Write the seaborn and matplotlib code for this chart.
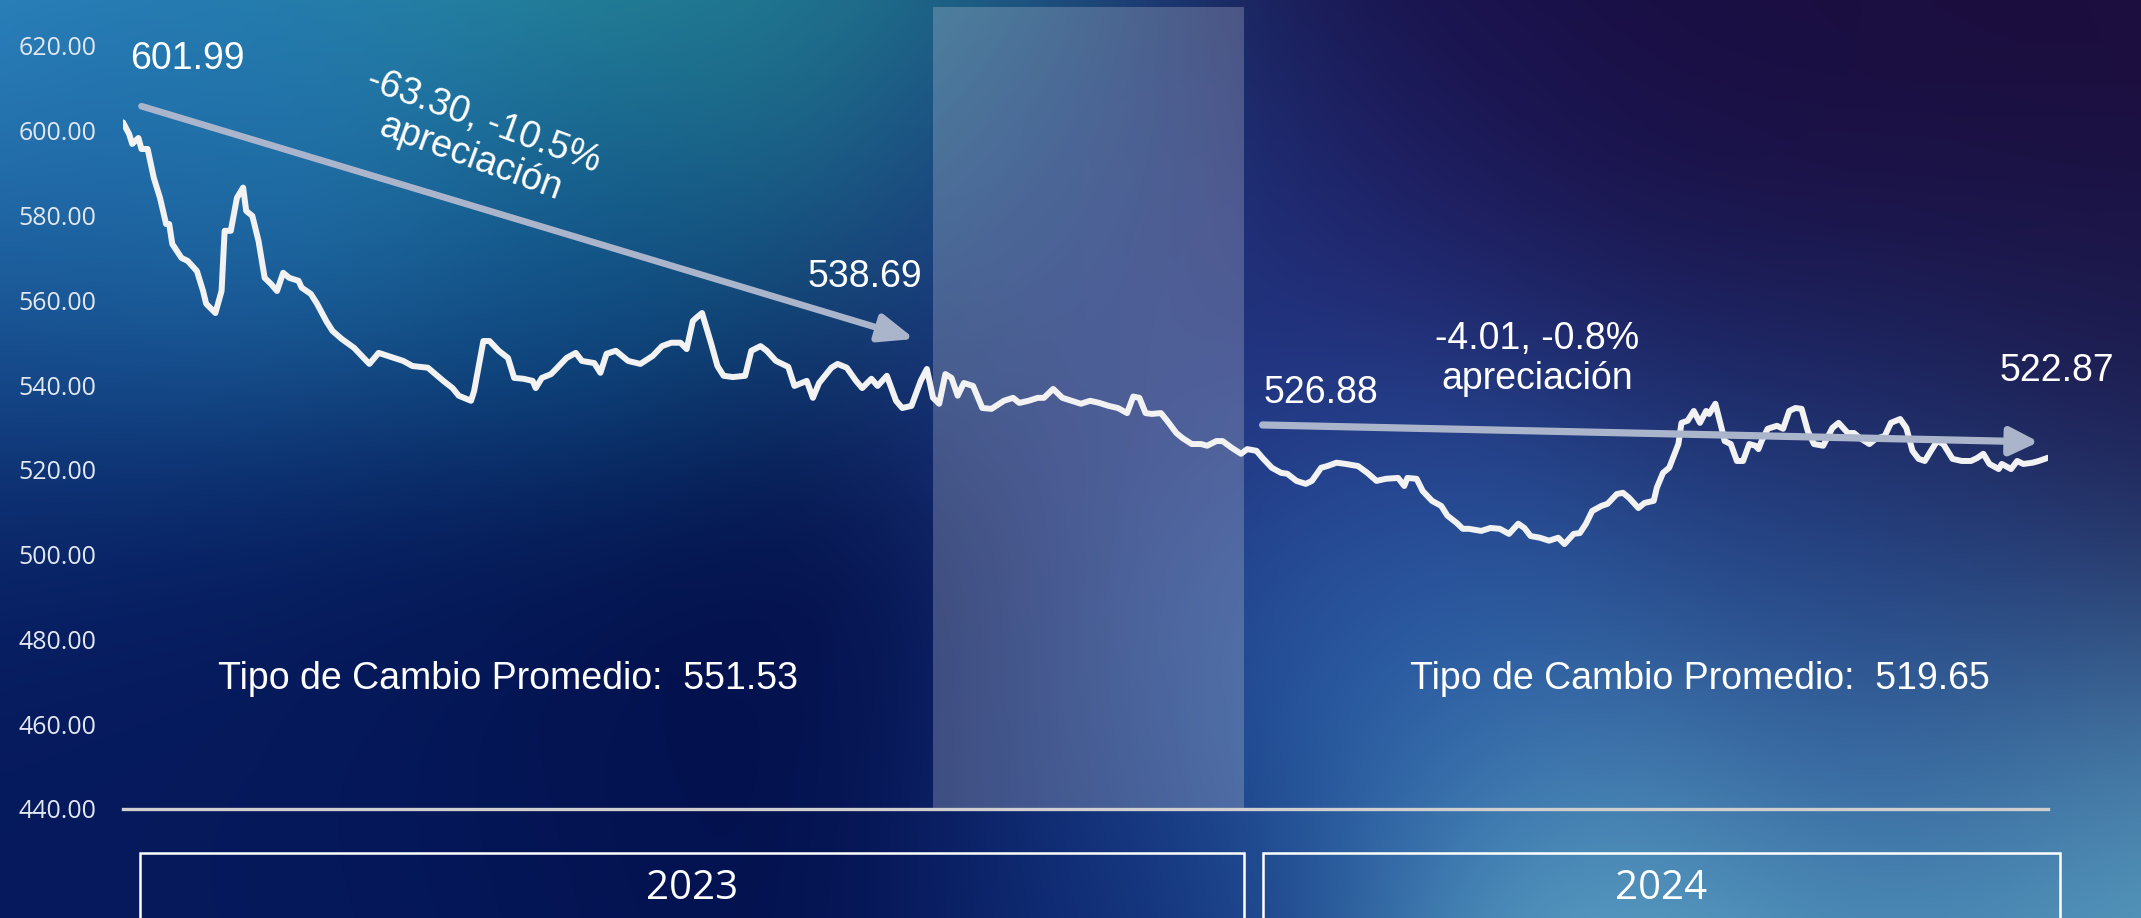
import numpy as np
import pandas as pd
import matplotlib
matplotlib.use("Agg")
import matplotlib.pyplot as plt
import seaborn as sns
from matplotlib.patches import Rectangle
from matplotlib.colors import to_rgb

# ---------------- data ----------------
fecha_inicio = "2023-01-02"
dias = [0, 2, 3, 5, 6, 8, 10, 12, 14, 15, 16, 19, 21, 24, 26, 27, 30, 32, 33, 35,
        37, 39, 40, 42, 44, 46, 48, 50, 52, 54, 57, 58, 61, 63, 66, 68, 71, 75, 80, 83,
        88, 91, 94, 99, 104, 107, 109, 113, 114, 117, 119, 122, 125, 127, 130, 133, 134, 136, 139, 141,
        144, 147, 149, 153, 155, 157, 160, 164, 168, 172, 175, 178, 181, 183, 185, 186, 188, 191, 193, 195,
        198, 202, 204, 207, 209, 212, 216, 218, 222, 224, 226, 230, 232, 235, 238, 240, 243, 245, 248, 251,
        253, 256, 259, 261, 263, 265, 267, 269, 271, 273, 276, 279, 282, 286, 289, 291, 294, 297, 299, 302,
        305, 308, 311, 314, 317, 320, 323, 326, 328, 330, 332, 334, 337, 339, 342, 344, 347, 350, 352, 355,
        357, 360, 363, 365, 368, 370, 373, 376, 378, 381, 384, 386, 389, 391, 394, 397, 401, 404, 407, 410,
        414, 416, 417, 420, 422, 425, 428, 430, 433, 435, 437, 441, 444, 447, 450, 453, 455, 457, 460, 463,
        466, 468, 471, 473, 475, 477, 480, 482, 485, 487, 489, 492, 494, 497, 498, 500, 502, 505, 506, 508,
        510, 512, 514, 515, 517, 519, 520, 522, 524, 526, 528, 530, 531, 532, 534, 537, 539, 541, 543, 545,
        547, 549, 552, 555, 557, 560, 562, 564, 567, 569, 572, 574, 577, 579, 581, 583, 585, 587, 589, 591,
        594, 597, 600, 602, 604, 606, 609, 610, 613, 615, 617, 620, 622, 625]
tipo_cambio = [601.99, 599.2, 596.9, 598.3, 595.7, 595.7, 588.9, 584.2, 578.0, 578.0,
               573.3, 570.0, 569.3, 566.9, 562.2, 559.2, 557.0, 562.2, 576.4, 576.4,
               584.2, 586.6, 581.1, 579.9, 574.0, 565.3, 563.9, 562.2, 566.5, 565.3,
               564.6, 563.0, 561.5, 559.2, 555.1, 552.8, 550.9, 548.8, 545.0, 547.6,
               546.4, 545.7, 544.5, 544.1, 541.0, 539.3, 537.5, 536.3, 538.6, 550.4,
               550.4, 548.1, 546.4, 541.7, 541.5, 541.0, 539.3, 541.7, 542.6, 544.1,
               546.4, 547.6, 545.7, 545.2, 542.9, 547.4, 548.1, 545.7, 545.0, 546.9,
               549.2, 550.0, 550.0, 548.5, 555.1, 555.8, 557.0, 549.7, 544.5, 542.2,
               541.9, 542.2, 548.1, 549.2, 548.1, 545.7, 544.3, 539.8, 541.0, 537.0,
               540.5, 544.1, 545.0, 544.1, 541.0, 539.3, 541.5, 539.8, 542.2, 536.3,
               534.6, 535.1, 541.0, 543.8, 537.0, 535.6, 542.6, 541.7, 537.5, 540.5,
               539.8, 534.6, 534.4, 536.3, 537.0, 535.8, 536.3, 537.0, 537.0, 539.1,
               537.0, 536.3, 535.6, 536.3, 535.8, 535.1, 534.6, 533.4, 537.3, 537.0,
               533.4, 533.2, 533.4, 531.6, 528.7, 527.5, 526.1, 526.1, 525.7, 526.8,
               526.8, 525.2, 523.8, 524.9, 524.5, 522.8, 520.5, 519.3, 519.1, 517.4,
               516.7, 517.4, 520.5, 520.9, 521.7, 521.4, 520.9, 519.3, 517.4, 517.9,
               518.1, 516.2, 518.1, 517.9, 515.0, 512.7, 511.5, 509.2, 507.5, 506.1,
               506.1, 505.6, 506.3, 506.1, 504.9, 507.3, 506.3, 504.4, 504.0, 503.3,
               504.0, 502.5, 504.9, 505.1, 507.3, 510.3, 511.5, 512.0, 514.3, 514.6,
               513.4, 511.0, 512.2, 512.7, 515.8, 519.3, 520.5, 526.1, 531.1, 531.6,
               533.9, 531.1, 533.9, 533.2, 535.6, 529.9, 526.8, 526.1, 522.1, 522.1,
               526.1, 525.7, 524.9, 526.8, 529.7, 530.4, 529.7, 533.9, 534.6, 534.4,
               529.2, 526.1, 525.7, 529.9, 531.1, 528.7, 528.7, 527.5, 526.1, 527.3,
               528.0, 531.1, 532.0, 529.9, 524.5, 522.6, 522.1, 524.5, 526.8, 526.1,
               522.6, 522.1, 522.1, 522.8, 523.8, 521.4, 520.2, 521.4, 520.2, 522.1,
               521.4, 521.7, 522.1, 522.87]

etiquetas_y = [440, 460, 480, 500, 520, 540, 560, 580, 600, 620]
periodo_sombreado = (263, 364)          # días desde el inicio (fin sep. 2023 - fin dic. 2023)
tramo_2023 = ((6, 605.8), (257, 550.9))  # flecha 601.99 -> 538.69
tramo_2024 = ((370, 530.6), (622, 526.6))  # flecha 526.88 -> 522.87
anios = ["2023", "2024"]
anio_rangos = [(5.5, 364), (370, 629)]
promedios = ["Tipo de Cambio Promedio:  551.53", "Tipo de Cambio Promedio:  519.65"]

df = pd.DataFrame({"dia": dias, "tipo_cambio": tipo_cambio})
df["fecha"] = pd.Timestamp(fecha_inicio) + pd.to_timedelta(df["dia"], unit="D")

# ---------------- figure ----------------
sns.set_style("white")
plt.rcParams["font.family"] = ["Liberation Sans", "DejaVu Sans"]

W, H = 2141, 918
fig = plt.figure(figsize=(W / 100, H / 100), dpi=100)

# background gradient (decorative)
pts = [
    ((0, 0), "#3392CE", 260), ((480, 0), "#2A979C", 240), ((850, 20), "#1F7A92", 200),
    ((180, 190), "#1E6CB0", 170), ((560, 250), "#0C4E93", 140), ((300, 130), "#2278B8", 150),
    ((150, 480), "#05185C", 260), ((750, 620), "#020C47", 300), ((350, 850), "#061B5E", 240),
    ((1300, 380), "#2C3B96", 200), ((1050, 250), "#1E3E8A", 160), ((1500, 120), "#17104A", 300),
    ((1950, 150), "#1D0C3A", 320), ((2100, 450), "#1A1F55", 200),
    ((1330, 690), "#2E6FB6", 190), ((1620, 860), "#6AB8D0", 190), ((1850, 680), "#2A5FA6", 180),
    ((2100, 830), "#5DA8C8", 200), ((1150, 860), "#0E2A78", 170), ((1780, 520), "#1C3A85", 180),
    ((1480, 560), "#2560AE", 150),
]
yy, xx = np.mgrid[0:H:4, 0:W:4].astype(float)
num = np.zeros(xx.shape + (3,))
den = np.zeros(xx.shape)
for (px, py), col, s in pts:
    w = np.exp(-((xx - px) ** 2 + (yy - py) ** 2) / (2 * s ** 2))
    num += w[..., None] * np.array(to_rgb(col))
    den += w
img = num / den[..., None]
bg = fig.add_axes([0, 0, 1, 1], zorder=0)
bg.imshow(img, aspect="auto", extent=[0, 1, 0, 1], interpolation="bilinear", origin="upper")
bg.set_axis_off()

ax = fig.add_axes([123 / W, 1 - 809 / H, (2048 - 123) / W, (809 - 7) / H], zorder=1)
ax.patch.set_alpha(0)

sns.lineplot(data=df, x="dia", y="tipo_cambio", ax=ax, color="#F2F2F2", linewidth=4.3,
             solid_joinstyle="round", solid_capstyle="round", zorder=4)

ax.set_xlim(0, 625)
ax.set_ylim(440, 629.2)
ax.set_yticks(etiquetas_y)
ax.set_yticklabels([f"{v:.2f}" for v in etiquetas_y], fontfamily="Open Sans", fontsize=18,
                   color="#E2E7F0")
ax.tick_params(axis="y", length=0, pad=19)
ax.set_xticks([])
ax.set_xlabel("")
ax.set_ylabel("")
for s in ["top", "right", "left"]:
    ax.spines[s].set_visible(False)
ax.spines["bottom"].set_color("#CFCFCF")
ax.spines["bottom"].set_linewidth(2.4)

ax.axvspan(*periodo_sombreado, color="#C8CCDA", alpha=0.28, lw=0, zorder=2)

arrow_col = "#AAB5CB"
ax.annotate("", xy=tramo_2023[1], xytext=tramo_2023[0],
            arrowprops=dict(arrowstyle="-|>,head_length=1.05,head_width=0.42", lw=4.8,
                            color=arrow_col, mutation_scale=20, shrinkA=0, shrinkB=0), zorder=5)
ax.annotate("", xy=tramo_2024[1], xytext=tramo_2024[0],
            arrowprops=dict(arrowstyle="-|>,head_length=0.85,head_width=0.42", lw=5.2,
                            color=arrow_col, mutation_scale=20, shrinkA=0, shrinkB=0), zorder=5)

tk = dict(color="white", fontsize=27, zorder=6)
ax.text(2.3, 616.9, "601.99", ha="left", va="center", **tk)
ax.text(241, 565.5, "538.69", ha="center", va="center", **tk)
ax.text(389, 538.2, "526.88", ha="center", va="center", **tk)
ax.text(628, 543.3, "522.87", ha="center", va="center", clip_on=False, **tk)
ax.text(115, 598.0, "-63.30, -10.5%\napreciación", ha="center", va="center",
        rotation=-20, rotation_mode="anchor", linespacing=1.12, **tk)
ax.text(459, 546.2, "-4.01, -0.8%\napreciación", ha="center", va="center",
        linespacing=1.15, **tk)
ax.text(125, 470.7, promedios[0], ha="center", va="center", **tk)
ax.text(512, 470.7, promedios[1], ha="center", va="center", **tk)

for (x0, x1), lab in zip(anio_rangos, anios):
    ax.add_patch(Rectangle((x0, 390), x1 - x0, 429.6 - 390, fill=False, ec="white",
                           lw=1.8, clip_on=False, zorder=5))
    ax.text((x0 + x1) / 2, 421.1, lab, ha="center", va="center", color="white",
            fontsize=29, fontfamily="Open Sans", clip_on=False, zorder=6)

fig.savefig("out.png", dpi=100)
